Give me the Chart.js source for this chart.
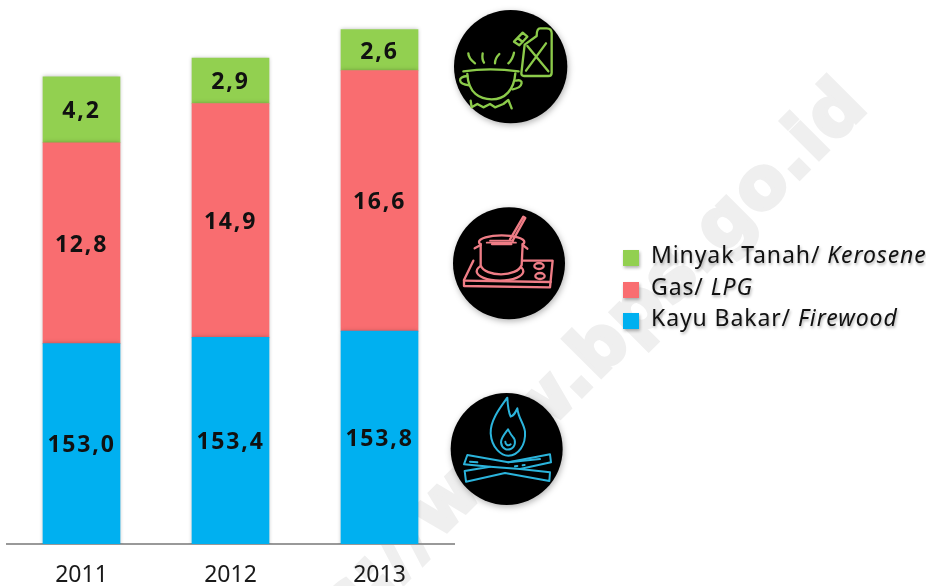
<!DOCTYPE html>
<html>
<head>
<meta charset="utf-8">
<title>Bahan bakar memasak</title>
<script src="https://cdn.jsdelivr.net/npm/chart.js@4"></script>
<style>
    html, body { margin: 0; padding: 0; background: #fff; }
    #wrap { position: relative; width: 926px; height: 586px; overflow: hidden; }
    canvas { display: block; }
    .icon { position: absolute; filter: drop-shadow(1px 2px 3px rgba(0,0,0,.3)); }
    .icon path, .icon ellipse { fill: none; stroke-linecap: round; stroke-linejoin: round; }
</style>
</head>
<body>
<div id="wrap">
    <canvas id="chartBahanBakar" width="926" height="586"></canvas>

    <!-- kerosene icon -->
    <svg class="icon" style="left:440px;top:10px" width="140" height="120" viewBox="0 0 420 360">
        <circle cx="212" cy="170" r="170" fill="#000"/>
        <g stroke="#8ccb4a" stroke-width="7">
            <path d="M70 184 Q150 172 236 184"/>
            <path d="M82 192 C85 250 120 268 155 268 C195 268 222 240 226 190"/>
            <path d="M82 198 C52 200 52 222 88 226"/>
            <path d="M228 212 C252 205 252 232 218 238"/>
            <path d="M85 130 Q85 145 105 160"/>
            <path d="M128 130 Q125 148 132 158"/>
            <path d="M178 132 Q165 145 165 160"/>
            <path d="M222 128 Q218 148 205 160"/>
            <path d="M92 272 L95 292 L112 282 L130 292 L150 282 L165 292 L190 282 L205 270 L215 295"/>
            <path d="M290 78 L254 104 L244 190 Q244 198 252 198 L325 198 Q335 198 335 188 L335 70 Q335 55 320 55 L300 55 Q290 55 290 78 Z"/>
            <path d="M262 108 L325 184 M318 100 L258 182"/>
            <path d="M222 95 L248 68 L262 80 L238 106 Z M233 84 L248 96"/>
        </g>
    </svg>

    <!-- LPG icon -->
    <svg class="icon" style="left:440px;top:200px" width="140" height="130" viewBox="0 0 420 390">
        <circle cx="207" cy="190" r="168" fill="#000"/>
        <g stroke="#ef7d86" stroke-width="7">
            <path d="M100 182 L72 240 L72 258 L330 262 L338 182 L245 182"/>
            <path d="M72 242 L332 246"/>
            <ellipse cx="297" cy="198" rx="14" ry="9"/>
            <ellipse cx="300" cy="228" rx="14" ry="9"/>
            <ellipse cx="180" cy="214" rx="70" ry="28" fill="#000"/>
            <ellipse cx="185" cy="126" rx="68" ry="20"/>
            <path d="M122 132 L122 196 C135 232 232 232 245 195 L248 132" style="fill:#000"/>
            <path d="M122 135 L104 145 M248 135 L262 146"/>
            <path d="M210 118 L250 50 L256 54 L218 122"/>
            <path d="M140 128 L228 128 M150 122 L220 122 M155 133 L215 133" stroke-width="5"/>
        </g>
    </svg>

    <!-- firewood icon -->
    <svg class="icon" style="left:440px;top:385px" width="140" height="130" viewBox="0 0 420 390">
        <circle cx="200" cy="192" r="168" fill="#000"/>
        <g stroke="#2bb4dc" stroke-width="6">
            <path d="M202 38 C185 62 150 105 152 145 C155 190 185 212 205 212 C235 212 258 180 255 140 C252 115 235 100 232 70 C225 85 222 92 212 95 C205 80 203 60 202 38 Z"/>
            <path d="M204 133 C195 145 182 160 183 172 C185 190 200 197 212 192 C228 185 228 165 218 155 C212 148 208 140 204 133 Z"/>
            <path d="M196 170 C196 180 205 184 212 178"/>
            <path d="M82 210 L205 232 L330 208 L333 232 L240 252 L330 262 L328 288 L195 264 L78 290 L74 258 L150 245 L72 238 Z"/>
            <path d="M150 245 L240 252 M205 232 L300 222 M90 230 L112 232 M225 244 L232 243 M248 241 L254 240"/>
        </g>
    </svg>
</div>

<script>
document.addEventListener("DOMContentLoaded", () => {

    // data in ribu/thousands, axis is truncated like in the original
    const years = ["2011", "2012", "2013"];
    const firewood = [153.0, 153.4, 153.8];
    const lpg = [12.8, 14.9, 16.6];
    const kerosene = [4.2, 2.9, 2.6];

    const legendNames = [
        ["Minyak Tanah/ ", "Kerosene"],
        ["Gas/ ", "LPG"],
        ["Kayu Bakar/ ", "Firewood"],
    ];
    const legendColors = ["#92D050", "#F96D70", "#00B0F0"];
    const legendRows = [258, 290, 321];

    const FONT = "'Noto Sans', sans-serif";
    const MARK_FONT = "'DejaVu Sans', sans-serif";

    const fmt = (v) => v.toFixed(1).replace(".", ",");

    // watermark behind everything
    const watermark = {
        id: "watermark",
        beforeDraw(chart) {
            const c = chart.ctx;
            c.save();
            c.translate(870, 108);
            c.rotate(-Math.PI / 4);
            c.font = `bold 71px ${MARK_FONT}`;
            c.letterSpacing = "1.5px";
            c.fillStyle = "#EFEFEF";
            c.strokeStyle = "#EFEFEF";
            c.lineWidth = 4;
            c.textAlign = "right";
            c.textBaseline = "alphabetic";
            c.fillText("https://www.bps.go.id", 0, 0);
            c.strokeText("https://www.bps.go.id", 0, 0);
            c.restore();
        },
    };

    // soft shadow on the bars
    const barShadow = {
        id: "barShadow",
        beforeDatasetsDraw(chart) {
            const c = chart.ctx;
            c.save();
            c.shadowColor = "rgba(0,0,0,0.25)";
            c.shadowBlur = 4;
        },
        afterDatasetsDraw(chart) {
            chart.ctx.restore();
        },
    };

    // value labels + legend with the italic english part
    const labelsAndLegend = {
        id: "labelsAndLegend",
        afterDraw(chart) {
            const c = chart.ctx;
            const area = chart.chartArea;
            c.save();
            c.font = `bold 23px ${FONT}`;
            c.letterSpacing = "1.8px";
            c.fillStyle = "#111";
            c.textAlign = "center";
            c.textBaseline = "middle";
            chart.data.datasets.forEach((ds, i) => {
                chart.getDatasetMeta(i).data.forEach((bar, j) => {
                    const bottom = Math.min(bar.base, area.bottom);
                    c.fillText(fmt(ds.data[j]), bar.x, (bar.y + bottom) / 2 + 2);
                });
            });

            c.textAlign = "left";
            c.letterSpacing = "0.9px";
            legendNames.forEach((name, i) => {
                const y = legendRows[i];
                c.save();
                c.shadowColor = "rgba(0,0,0,0.3)";
                c.shadowBlur = 3;
                c.shadowOffsetX = 1;
                c.shadowOffsetY = 2;
                c.fillStyle = legendColors[i];
                c.fillRect(623, y - 8, 16, 16);
                c.fillStyle = "#111";
                c.font = `23px ${FONT}`;
                c.fillText(name[0], 651, y - 2);
                const w = c.measureText(name[0]).width;
                c.font = `italic 23px ${FONT}`;
                c.fillText(name[1], 651 + w, y - 2);
                c.restore();
            });
            c.restore();
        },
    };

    new Chart(document.getElementById("chartBahanBakar"), {
        type: "bar",
        data: {
            labels: years,
            datasets: [
                { label: "Kayu Bakar/ Firewood", data: firewood, backgroundColor: legendColors[2] },
                { label: "Gas/ LPG", data: lpg, backgroundColor: legendColors[1] },
                { label: "Minyak Tanah/ Kerosene", data: kerosene, backgroundColor: legendColors[0] },
            ],
        },
        options: {
            responsive: false,
            animation: false,
            layout: { padding: { left: 7, right: 472, top: 14, bottom: 0 } },
            datasets: { bar: { barThickness: 77, borderWidth: 0 } },
            scales: {
                x: {
                    stacked: true,
                    grid: { display: false, drawTicks: false },
                    border: { display: true, color: "#999", width: 2 },
                    ticks: { color: "#1a1a1a", padding: 18, font: { family: FONT, size: 23 } },
                    afterFit: (scale) => { scale.height = 42; },
                },
                y: {
                    stacked: true,
                    display: false,
                    min: 140.24,
                    max: 174,
                },
            },
            plugins: {
                legend: { display: false },
                tooltip: { enabled: false },
            },
        },
        plugins: [watermark, barShadow, labelsAndLegend],
    });

});
</script>
</body>
</html>
